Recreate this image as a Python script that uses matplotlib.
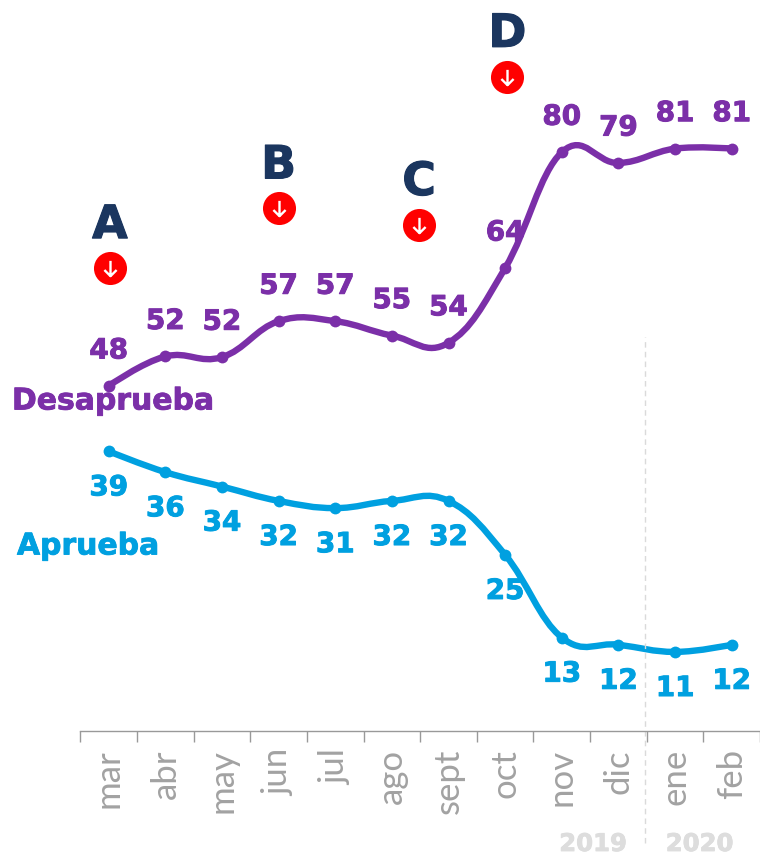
import numpy as np
import matplotlib
matplotlib.use("Agg")
import matplotlib.pyplot as plt
import matplotlib.patheffects as pe
from matplotlib.path import Path
from matplotlib.patches import PathPatch

months = ["mar", "abr", "may", "jun", "jul", "ago", "sept", "oct", "nov", "dic", "ene", "feb"]
desaprueba = [48, 52.1, 52, 57, 57, 55, 54, 64.4, 80.5, 79, 81, 81]
desaprueba_labels = [48, 52, 52, 57, 57, 55, 54, 64, 80, 79, 81, 81]
aprueba = [38.9, 36, 34, 32, 31, 32, 32, 24.5, 13, 12, 11, 12]
aprueba_labels = [39, 36, 34, 32, 31, 32, 32, 25, 13, 12, 11, 12]
event_names = ["A", "B", "C", "D"]
event_pos = [0.02, 3.0, 5.48, 7.04]
event_level = [64.4, 72.7, 70.4, 91]
years = ["2019", "2020"]
year_pos = [8.55, 10.43]

PURPLE, BLUE, NAVY = "#7B2FA8", "#00A0E0", "#1B365F"
BOLD = ["DejaVu Sans"]
X0, DX, Y0, DY = 109.0, 56.75, 731.0, 7.19

fig = plt.figure(figsize=(7.6, 8.56), dpi=100)
ax = fig.add_axes([0, 0, 1, 1])
ax.set_xlim((0 - X0) / DX, (760 - X0) / DX)
ax.set_ylim((Y0 - 856) / DY, Y0 / DY)
ax.patch.set_visible(False)


def heavy(width, color):
    return [pe.withStroke(linewidth=width, foreground=color)]


def spline_path(xs, ys, smoothing=1.5):
    """Smooth Bezier spline through the data points, tangents from the neighbours."""
    d = smoothing + 1
    verts = [(xs[0], ys[0])]
    codes = [Path.MOVETO]
    n = len(xs)
    right = (xs[0], ys[0])
    for i in range(1, n):
        if i < n - 1:
            lx = (smoothing * xs[i] + xs[i - 1]) / d
            ly = (smoothing * ys[i] + ys[i - 1]) / d
            rx = (smoothing * xs[i] + xs[i + 1]) / d
            ry = (smoothing * ys[i] + ys[i + 1]) / d
            c = ((ry - ly) * (rx - xs[i])) / (rx - lx) + ys[i] - ry
            ly += c
            ry += c
            left = (lx, ly)
        else:
            left = (xs[i], ys[i])
            rx, ry = xs[i], ys[i]
        verts += [right, left, (xs[i], ys[i])]
        codes += [Path.CURVE4] * 3
        right = (rx, ry)
    return Path(verts, codes)


x = np.arange(len(months))
for vals, labs, col, off in [(desaprueba, desaprueba_labels, PURPLE, 25.5),
                             (aprueba, aprueba_labels, BLUE, -26.0)]:
    ax.add_patch(PathPatch(spline_path(list(x), vals), fc="none", ec=col, lw=4.6,
                           capstyle="round", joinstyle="round"))
    ax.plot(x, vals, ls="none", marker="o", ms=8.5, color=col, mew=0)
    for xi, v, l in zip(x, vals, labs):
        ax.annotate(str(l), (xi, v), xytext=(0, off), textcoords="offset points",
                    ha="center", va="center", color=col, fontsize=20,
                    fontweight="bold", family=BOLD, path_effects=heavy(0.7, col))

ax.annotate("Desaprueba", ((12 - X0) / DX, (Y0 - 401) / DY), ha="left", va="center",
            color=PURPLE, fontsize=21.5, fontweight="bold", family=BOLD,
            path_effects=heavy(0.6, PURPLE))
ax.annotate("Aprueba", ((17 - X0) / DX, (Y0 - 546) / DY), ha="left", va="center",
            color=BLUE, fontsize=21.5, fontweight="bold", family=BOLD,
            path_effects=heavy(0.6, BLUE))

arrow = Path([(0, 1), (0, -1), (-0.8, -0.2), (0, -1), (0.8, -0.2)],
             [Path.MOVETO, Path.LINETO, Path.MOVETO, Path.LINETO, Path.LINETO])
for name, xe, ye in zip(event_names, event_pos, event_level):
    ax.plot([xe], [ye], marker="o", ms=23.8, color="#FF0000", mew=0, ls="none")
    ax.plot([xe], [ye], marker=arrow, ms=11, mfc="none", mec="white", mew=1.7, ls="none")
    ax.annotate(name, (xe, ye), xytext=(0, 30.5), textcoords="offset points", ha="center",
                va="center", color=NAVY, fontsize=33, fontweight="bold", family=BOLD,
                path_effects=heavy(0.8, NAVY))

ax.plot([(646 - X0) / DX] * 2, [(Y0 - 843) / DY, (Y0 - 337) / DY], color="#DADADA", lw=1,
        ls=(0, (4, 3)), clip_on=False)

for y_, xp in zip(years, year_pos):
    ax.text(xp, (Y0 - 844) / DY, y_, ha="center", va="center", color="#DDDDDD",
            fontsize=17.5, fontweight="bold", family=BOLD, path_effects=heavy(0.6, "#DDDDDD"))

for s in ["top", "left", "right"]:
    ax.spines[s].set_visible(False)
ax.spines["bottom"].set_position(("data", 0))
ax.spines["bottom"].set_bounds(-0.5, 11.6)
ax.spines["bottom"].set_color("#999999")
ax.spines["bottom"].set_linewidth(1)
ax.yaxis.set_visible(False)
ax.set_xticks(np.arange(-0.5, 12, 1))
ax.set_xticklabels([])
ax.tick_params(axis="x", which="major", length=8, width=1, color="#999999")
ax.set_xticks(x, minor=True)
ax.set_xticklabels(months, minor=True, rotation=90, fontsize=25, color="#A2A2A2",
                   family=["Lato", "DejaVu Sans"], fontweight="normal", va="top", ha="center")
ax.tick_params(axis="x", which="minor", length=0, pad=13)

fig.savefig("out.png", dpi=100)
